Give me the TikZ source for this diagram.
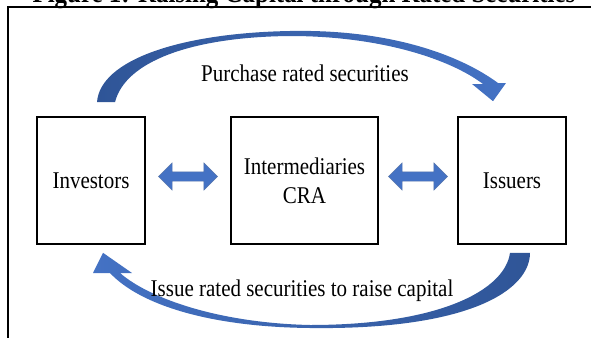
\documentclass[tikz,border=0pt]{standalone}
\usepackage{fontspec}
\setmainfont{Liberation Serif}
\newfontfamily\narrowserif[FakeStretch=0.875]{Liberation Serif}
\usepackage{tikz}
\usetikzlibrary{shapes,arrows,calc}
\definecolor{arrdark}{HTML}{2F5597}
\definecolor{arrlight}{HTML}{4472C4}
\tikzstyle{block} = [rectangle, draw, line width=1.6pt, text centered, minimum height=127pt, align=center, font=\narrowserif\fontsize{24}{29}\selectfont]
\tikzstyle{twoway} = [double arrow, fill=arrlight, draw=arrdark!80, line width=0.4pt, minimum height=59pt, minimum width=27pt, double arrow head extend=9pt, inner sep=4.5pt]
\tikzstyle{note} = [font=\narrowserif\fontsize{24}{29}\selectfont]

\begin{document}
\begin{tikzpicture}[x=1pt,y=-1pt]
\useasboundingbox (0,0) rectangle (591,337);
\node [font=\narrowserif\fontsize{28.5}{32}\selectfont\bfseries, anchor=base] (title) at (304,3) {Figure 1: Raising Capital through Rated Securities};
\draw [line width=1.5pt] (8,345) -- (8,7) -- (600,7);

\node [block, minimum width=108pt] (p1) at (91,180.5) {Investors};
\node [block, minimum width=147pt] (p2) at (304.5,180.5) {Intermediaries\\CRA};
\node [block, minimum width=108pt] (p3) at (512,180.5) {Issuers};

\node [twoway] (a1) at ($(p1.east)!0.5!(p2.west)+(0,-4)$) {};
\node [twoway] (a2) at ($(p2.east)!0.5!(p3.west)+(0,-4)$) {};

% investors buy from issuers
\shade [left color=arrdark, right color=arrlight]
  ($(p1.north)+(6,-14)$) .. controls (100,60) and (180,33) .. (290,31)
  .. controls (390,29) and (460,55) .. (498,83) -- (506,83)
  -- ($(p3.north)+(-19,-15)$) -- (472,84) -- (483,84)
  .. controls (450,59) and (380,36) .. (290,36)
  .. controls (190,37) and (125,62) .. ($(p1.north)+(24,-14)$) -- cycle;

% issuers sell to investors
\shade [left color=arrlight, right color=arrdark]
  ($(p3.south)+(18,8)$) .. controls (530,290) and (470,330) .. (310,328)
  .. controls (210,327) and (140,305) .. (110,273) -- (93,273)
  -- ($(p1.south)+(12,8)$) -- (132,273) -- (120,273)
  .. controls (150,299) and (220,323) .. (310,325)
  .. controls (440,325) and (505,290) .. ($(p3.south)+(-2,8)$) -- cycle;

\node [note] (t1) at (305,73) {Purchase rated securities};
\node [note] (t2) at (302,291) {Issue rated securities to raise capital};
\end{tikzpicture}
\end{document}
